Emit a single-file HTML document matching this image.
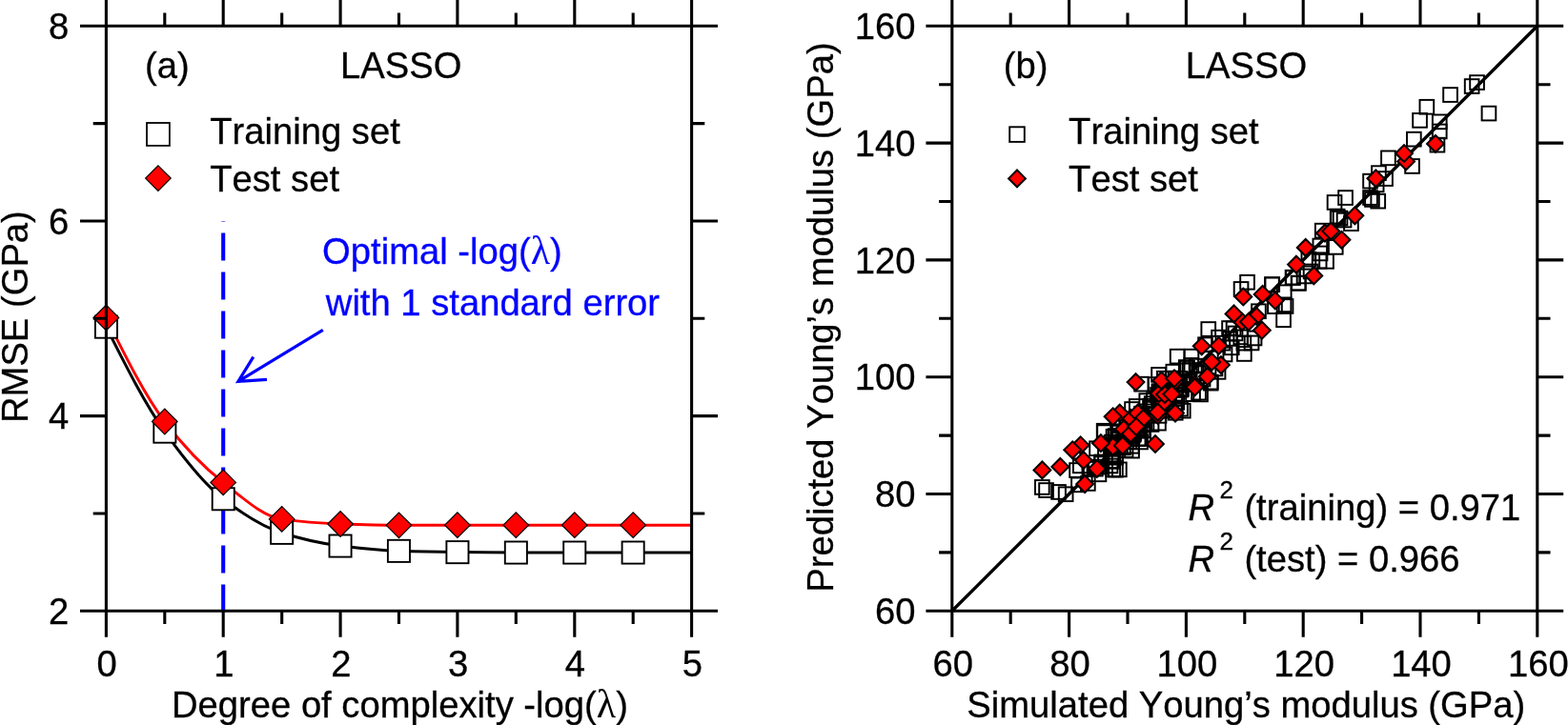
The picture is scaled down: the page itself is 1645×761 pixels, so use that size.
<!DOCTYPE html>
<html lang="en"><head><meta charset="utf-8"><title>LASSO RMSE and parity plot</title>
<style>
html,body{margin:0;padding:0;background:#fff;}
body{width:1645px;height:761px;overflow:hidden;}
svg{display:block;font-family:"Liberation Sans",sans-serif;font-size:38.2px;font-kerning:none;}
</style></head><body>
<svg width="1645" height="761" viewBox="0 0 1645 761">
<rect width="1645" height="761" fill="#fff"/>
<g id="panel-a">
<line x1="234.2" y1="642.5" x2="234.2" y2="231.9" stroke="#00f" stroke-width="4.1" stroke-dasharray="29 12"/>
<path d="M111.4 343.2C131.9 383.8 152.3 424.4 172.8 453.1C193.3 481.8 213.8 507.9 234.2 523.7C254.7 539.5 275.2 552.7 295.7 559.3C316.1 565.9 336.6 570.5 357.1 573C377.6 575.5 398 577.6 418.5 578.3C439 579 459.4 579.4 479.9 579.6C500.4 579.8 520.9 580 541.3 580C561.8 580 582.3 580 602.8 580C623.2 580 643.7 580 664.2 580C684.7 580 705.1 580 725.6 580" fill="none" stroke="#000" stroke-width="3"/>
<path d="M111.4 333.5C131.9 374.6 152.3 415.6 172.8 442.5C193.3 469.4 213.8 490.4 234.2 506.4C254.7 522.4 275.2 541.9 295.7 544.9C316.1 547.9 336.6 549.3 357.1 550C377.6 550.7 398 551.3 418.5 551.3C439 551.3 459.4 551.2 479.9 551.2C500.4 551.2 520.9 551.2 541.3 551.2C561.8 551.2 582.3 551.2 602.8 551.2C623.2 551.2 643.7 551.2 664.2 551.2C684.7 551.2 705.1 551.2 725.6 551.2" fill="none" stroke="#f00" stroke-width="2.9"/>
<g stroke="#000">
<rect x="99.9" y="331.6" width="23.1" height="23.1" fill="#fff" stroke-width="1.9"/>
<rect x="161.3" y="441.6" width="23.1" height="23.1" fill="#fff" stroke-width="1.9"/>
<rect x="222.7" y="512.2" width="23.1" height="23.1" fill="#fff" stroke-width="1.9"/>
<rect x="284.1" y="547.8" width="23.1" height="23.1" fill="#fff" stroke-width="1.9"/>
<rect x="345.5" y="561.5" width="23.1" height="23.1" fill="#fff" stroke-width="1.9"/>
<rect x="406.9" y="566.8" width="23.1" height="23.1" fill="#fff" stroke-width="1.9"/>
<rect x="468.4" y="568.1" width="23.1" height="23.1" fill="#fff" stroke-width="1.9"/>
<rect x="529.8" y="568.5" width="23.1" height="23.1" fill="#fff" stroke-width="1.9"/>
<rect x="591.2" y="568.5" width="23.1" height="23.1" fill="#fff" stroke-width="1.9"/>
<rect x="652.6" y="568.5" width="23.1" height="23.1" fill="#fff" stroke-width="1.9"/>
<path d="M98.1 333.5L111.4 320.2L124.7 333.5L111.4 346.8Z" fill="#f00" stroke-width="1.2"/>
<path d="M159.5 442.5L172.8 429.2L186.1 442.5L172.8 455.8Z" fill="#f00" stroke-width="1.2"/>
<path d="M220.9 506.4L234.2 493.1L247.5 506.4L234.2 519.7Z" fill="#f00" stroke-width="1.2"/>
<path d="M282.4 544.9L295.7 531.6L309 544.9L295.7 558.2Z" fill="#f00" stroke-width="1.2"/>
<path d="M343.8 550L357.1 536.7L370.4 550L357.1 563.3Z" fill="#f00" stroke-width="1.2"/>
<path d="M405.2 551.3L418.5 538L431.8 551.3L418.5 564.6Z" fill="#f00" stroke-width="1.2"/>
<path d="M466.6 551.2L479.9 537.9L493.2 551.2L479.9 564.5Z" fill="#f00" stroke-width="1.2"/>
<path d="M528 551.2L541.3 537.9L554.6 551.2L541.3 564.5Z" fill="#f00" stroke-width="1.2"/>
<path d="M589.5 551.2L602.8 537.9L616.1 551.2L602.8 564.5Z" fill="#f00" stroke-width="1.2"/>
<path d="M650.9 551.2L664.2 537.9L677.5 551.2L664.2 564.5Z" fill="#f00" stroke-width="1.2"/>
<rect x="154" y="129" width="23.9" height="23.9" fill="#fff" stroke-width="1.8"/>
<path d="M152.6 187.1L165.9 173.8L179.2 187.1L165.9 200.4Z" fill="#f00" stroke-width="1.2"/>
</g>
<path d="M84 641.3H753M84 27.3H753M111.4 668.7V-0.1M725.6 668.7V-0.1M234.2 641.3v27.4M234.2 27.3v-27.4M357.1 641.3v27.4M357.1 27.3v-27.4M479.9 641.3v27.4M479.9 27.3v-27.4M602.8 641.3v27.4M602.8 27.3v-27.4M172.8 641.3v13.7M172.8 27.3v-13.7M295.7 641.3v13.7M295.7 27.3v-13.7M418.5 641.3v13.7M418.5 27.3v-13.7M541.3 641.3v13.7M541.3 27.3v-13.7M664.2 641.3v13.7M664.2 27.3v-13.7M111.4 436.6h-27.4M725.6 436.6h27.4M111.4 232h-27.4M725.6 232h27.4M111.4 539h-13.7M725.6 539h13.7M111.4 334.3h-13.7M725.6 334.3h13.7M111.4 129.6h-13.7M725.6 129.6h13.7" fill="none" stroke="#000" stroke-width="3.1"/>
<path d="M338.8 346.3L250 400.3M265.8 374.6L249.9 400.4L280 398.3" fill="none" stroke="#00f" stroke-width="3.2" stroke-miterlimit="10"/>
<g stroke="#000" stroke-width="0.3">
<text transform="translate(112.1,710.4) scale(1,1.02)" text-anchor="middle">0</text>
<text transform="translate(234.9,710.4) scale(1,1.02)" text-anchor="middle">1</text>
<text transform="translate(357.8,710.4) scale(1,1.02)" text-anchor="middle">2</text>
<text transform="translate(480.6,710.4) scale(1,1.02)" text-anchor="middle">3</text>
<text transform="translate(603.5,710.4) scale(1,1.02)" text-anchor="middle">4</text>
<text transform="translate(726.3,710.4) scale(1,1.02)" text-anchor="middle">5</text>
<text transform="translate(72.2,655) scale(1,1.02)" text-anchor="end">2</text>
<text transform="translate(72.2,450.3) scale(1,1.02)" text-anchor="end">4</text>
<text transform="translate(72.2,245.7) scale(1,1.02)" text-anchor="end">6</text>
<text transform="translate(72.2,41) scale(1,1.02)" text-anchor="end">8</text>
<text transform="translate(180,752.6) scale(1,1.02)">Degree of complexity -log(<tspan font-family="Liberation Serif,serif" font-size="42" stroke-width="0">λ</tspan>)</text>
<text transform="translate(28.7,444) rotate(-90) scale(1,1.02)">RMSE (GPa)</text>
<text transform="translate(152,81.9) scale(1,1.02)">(a)</text>
<text transform="translate(357,81.8) scale(1,1.02)">LASSO</text>
<text transform="translate(220.2,150.7) scale(1,1.02)">Training set</text>
<text transform="translate(220.2,200.5) scale(1,1.02)">Test set</text>
<text transform="translate(338.1,276.8) scale(1,1.02)" fill="#00f" stroke="#00f">Optimal -log(<tspan font-family="Liberation Serif,serif" font-size="42" stroke-width="0">λ</tspan>)</text>
<text transform="translate(341.8,331.3) scale(1,1.02)" fill="#00f" stroke="#00f">with 1 standard error</text>
</g>
</g>
<g id="panel-b">
<line x1="998.8" y1="641.3" x2="1612.8" y2="27.3" stroke="#000" stroke-width="3.5" />
<g stroke="#000" fill="none">
<rect x="1542.2" y="79.2" width="14.7" height="14.7" fill="none" stroke-width="1.95"/>
<rect x="1536.8" y="83.2" width="14.7" height="14.7" fill="none" stroke-width="1.95"/>
<rect x="1514.2" y="92.2" width="14.7" height="14.7" fill="none" stroke-width="1.95"/>
<rect x="1489.5" y="104.9" width="14.7" height="14.7" fill="none" stroke-width="1.95"/>
<rect x="1482.2" y="119" width="14.7" height="14.7" fill="none" stroke-width="1.95"/>
<rect x="1502.9" y="120.5" width="14.7" height="14.7" fill="none" stroke-width="1.95"/>
<rect x="1502.9" y="130.6" width="14.7" height="14.7" fill="none" stroke-width="1.95"/>
<rect x="1554.6" y="111.7" width="14.7" height="14.7" fill="none" stroke-width="1.95"/>
<rect x="1476" y="138.8" width="14.7" height="14.7" fill="none" stroke-width="1.95"/>
<rect x="1500.6" y="144.8" width="14.7" height="14.7" fill="none" stroke-width="1.95"/>
<rect x="1449.1" y="158.5" width="14.7" height="14.7" fill="none" stroke-width="1.95"/>
<rect x="1474.2" y="167.1" width="14.7" height="14.7" fill="none" stroke-width="1.95"/>
<rect x="1439.1" y="174.3" width="14.7" height="14.7" fill="none" stroke-width="1.95"/>
<rect x="1430.2" y="182.8" width="14.7" height="14.7" fill="none" stroke-width="1.95"/>
<rect x="1446.2" y="180.2" width="14.7" height="14.7" fill="none" stroke-width="1.95"/>
<rect x="1436.8" y="186.5" width="14.7" height="14.7" fill="none" stroke-width="1.95"/>
<rect x="1404.2" y="200.2" width="14.7" height="14.7" fill="none" stroke-width="1.95"/>
<rect x="1392.7" y="205.1" width="14.7" height="14.7" fill="none" stroke-width="1.95"/>
<rect x="1430.2" y="200.2" width="14.7" height="14.7" fill="none" stroke-width="1.95"/>
<rect x="1432.1" y="202.1" width="14.7" height="14.7" fill="none" stroke-width="1.95"/>
<rect x="1438.4" y="203.8" width="14.7" height="14.7" fill="none" stroke-width="1.95"/>
<rect x="1395.8" y="219.8" width="14.7" height="14.7" fill="none" stroke-width="1.95"/>
<rect x="1398.7" y="221.7" width="14.7" height="14.7" fill="none" stroke-width="1.95"/>
<rect x="1396.2" y="221.6" width="14.7" height="14.7" fill="none" stroke-width="1.95"/>
<rect x="1410.1" y="227.3" width="14.7" height="14.7" fill="none" stroke-width="1.95"/>
<rect x="1402.7" y="223.7" width="14.7" height="14.7" fill="none" stroke-width="1.95"/>
<rect x="1379.9" y="234.8" width="14.7" height="14.7" fill="none" stroke-width="1.95"/>
<rect x="1377.5" y="250.7" width="14.7" height="14.7" fill="none" stroke-width="1.95"/>
<rect x="1393.9" y="252" width="14.7" height="14.7" fill="none" stroke-width="1.95"/>
<rect x="1365.5" y="264.8" width="14.7" height="14.7" fill="none" stroke-width="1.95"/>
<rect x="1376.8" y="266.8" width="14.7" height="14.7" fill="none" stroke-width="1.95"/>
<rect x="1384.2" y="267" width="14.7" height="14.7" fill="none" stroke-width="1.95"/>
<rect x="1377.7" y="258.6" width="14.7" height="14.7" fill="none" stroke-width="1.95"/>
<rect x="1348.7" y="283.8" width="14.7" height="14.7" fill="none" stroke-width="1.95"/>
<rect x="1354.7" y="289.8" width="14.7" height="14.7" fill="none" stroke-width="1.95"/>
<rect x="1327.4" y="291.4" width="14.7" height="14.7" fill="none" stroke-width="1.95"/>
<rect x="1367.7" y="277.6" width="14.7" height="14.7" fill="none" stroke-width="1.95"/>
<rect x="1360.7" y="282.6" width="14.7" height="14.7" fill="none" stroke-width="1.95"/>
<rect x="1301.2" y="288.9" width="14.7" height="14.7" fill="none" stroke-width="1.95"/>
<rect x="1294.7" y="296.1" width="14.7" height="14.7" fill="none" stroke-width="1.95"/>
<rect x="1327.1" y="291.3" width="14.7" height="14.7" fill="none" stroke-width="1.95"/>
<rect x="1349.1" y="284.2" width="14.7" height="14.7" fill="none" stroke-width="1.95"/>
<rect x="1355.1" y="289.9" width="14.7" height="14.7" fill="none" stroke-width="1.95"/>
<rect x="1339.9" y="299.4" width="14.7" height="14.7" fill="none" stroke-width="1.95"/>
<rect x="1339.7" y="312.5" width="14.7" height="14.7" fill="none" stroke-width="1.95"/>
<rect x="1341.7" y="314.1" width="14.7" height="14.7" fill="none" stroke-width="1.95"/>
<rect x="1330.1" y="314.3" width="14.7" height="14.7" fill="none" stroke-width="1.95"/>
<rect x="1339.2" y="328.4" width="14.7" height="14.7" fill="none" stroke-width="1.95"/>
<rect x="1313.1" y="319.4" width="14.7" height="14.7" fill="none" stroke-width="1.95"/>
<rect x="1260.4" y="338.2" width="14.7" height="14.7" fill="none" stroke-width="1.95"/>
<rect x="1282.2" y="337.2" width="14.7" height="14.7" fill="none" stroke-width="1.95"/>
<rect x="1271.2" y="346.8" width="14.7" height="14.7" fill="none" stroke-width="1.95"/>
<rect x="1286.7" y="337.6" width="14.7" height="14.7" fill="none" stroke-width="1.95"/>
<rect x="1308.7" y="347.6" width="14.7" height="14.7" fill="none" stroke-width="1.95"/>
<rect x="1227.8" y="366.8" width="14.7" height="14.7" fill="none" stroke-width="1.95"/>
<rect x="1242.6" y="366.8" width="14.7" height="14.7" fill="none" stroke-width="1.95"/>
<rect x="1298" y="364.1" width="14.7" height="14.7" fill="none" stroke-width="1.95"/>
<rect x="1208.2" y="386" width="14.7" height="14.7" fill="none" stroke-width="1.95"/>
<rect x="1305.7" y="352.6" width="14.7" height="14.7" fill="none" stroke-width="1.95"/>
<rect x="1257.2" y="354.4" width="14.7" height="14.7" fill="none" stroke-width="1.95"/>
<rect x="1294.4" y="346.5" width="14.7" height="14.7" fill="none" stroke-width="1.95"/>
<rect x="1283.4" y="348.1" width="14.7" height="14.7" fill="none" stroke-width="1.95"/>
<rect x="1284.9" y="357.5" width="14.7" height="14.7" fill="none" stroke-width="1.95"/>
<rect x="1214" y="389.9" width="14.7" height="14.7" fill="none" stroke-width="1.95"/>
<rect x="1223.5" y="382.8" width="14.7" height="14.7" fill="none" stroke-width="1.95"/>
<rect x="1240.8" y="381.2" width="14.7" height="14.7" fill="none" stroke-width="1.95"/>
<rect x="1250.2" y="384.3" width="14.7" height="14.7" fill="none" stroke-width="1.95"/>
<rect x="1262.9" y="393.8" width="14.7" height="14.7" fill="none" stroke-width="1.95"/>
<rect x="1204.5" y="396.2" width="14.7" height="14.7" fill="none" stroke-width="1.95"/>
<rect x="1250.2" y="404.8" width="14.7" height="14.7" fill="none" stroke-width="1.95"/>
<rect x="1236.1" y="395.4" width="14.7" height="14.7" fill="none" stroke-width="1.95"/>
<rect x="1267.6" y="379.6" width="14.7" height="14.7" fill="none" stroke-width="1.95"/>
<rect x="1275.5" y="352.8" width="14.7" height="14.7" fill="none" stroke-width="1.95"/>
<rect x="1297.5" y="352.8" width="14.7" height="14.7" fill="none" stroke-width="1.95"/>
<rect x="1262.8" y="394.8" width="14.7" height="14.7" fill="none" stroke-width="1.95"/>
<rect x="1252.2" y="406.6" width="14.7" height="14.7" fill="none" stroke-width="1.95"/>
<rect x="1233.9" y="423.8" width="14.7" height="14.7" fill="none" stroke-width="1.95"/>
<rect x="1270.7" y="383" width="14.7" height="14.7" fill="none" stroke-width="1.95"/>
<rect x="1189.2" y="456.6" width="14.7" height="14.7" fill="none" stroke-width="1.95"/>
<rect x="1160.4" y="485.5" width="14.7" height="14.7" fill="none" stroke-width="1.95"/>
<rect x="1167" y="485.5" width="14.7" height="14.7" fill="none" stroke-width="1.95"/>
<rect x="1254.7" y="390.6" width="14.7" height="14.7" fill="none" stroke-width="1.95"/>
<rect x="1260.7" y="377.6" width="14.7" height="14.7" fill="none" stroke-width="1.95"/>
<rect x="1268.7" y="368.6" width="14.7" height="14.7" fill="none" stroke-width="1.95"/>
<rect x="1277.7" y="364.6" width="14.7" height="14.7" fill="none" stroke-width="1.95"/>
<rect x="1288.7" y="342.6" width="14.7" height="14.7" fill="none" stroke-width="1.95"/>
<rect x="1150.8" y="444.9" width="14.7" height="14.7" fill="none" stroke-width="1.95"/>
<rect x="1180.2" y="422.2" width="14.7" height="14.7" fill="none" stroke-width="1.95"/>
<rect x="1184.9" y="419.1" width="14.7" height="14.7" fill="none" stroke-width="1.95"/>
<rect x="1195.4" y="413.3" width="14.7" height="14.7" fill="none" stroke-width="1.95"/>
<rect x="1190.2" y="395.8" width="14.7" height="14.7" fill="none" stroke-width="1.95"/>
<rect x="1231.2" y="421.8" width="14.7" height="14.7" fill="none" stroke-width="1.95"/>
<rect x="1225.9" y="425.9" width="14.7" height="14.7" fill="none" stroke-width="1.95"/>
<rect x="1200.7" y="438.1" width="14.7" height="14.7" fill="none" stroke-width="1.95"/>
<rect x="1186.8" y="453.3" width="14.7" height="14.7" fill="none" stroke-width="1.95"/>
<rect x="1244.2" y="406.3" width="14.7" height="14.7" fill="none" stroke-width="1.95"/>
<rect x="1086" y="504.1" width="14.7" height="14.7" fill="none" stroke-width="1.95"/>
<rect x="1090.2" y="507.2" width="14.7" height="14.7" fill="none" stroke-width="1.95"/>
<rect x="1103.2" y="509.1" width="14.7" height="14.7" fill="none" stroke-width="1.95"/>
<rect x="1110.8" y="511.4" width="14.7" height="14.7" fill="none" stroke-width="1.95"/>
<rect x="1122.2" y="486.2" width="14.7" height="14.7" fill="none" stroke-width="1.95"/>
<rect x="1125.9" y="481.5" width="14.7" height="14.7" fill="none" stroke-width="1.95"/>
<rect x="1124.1" y="501.5" width="14.7" height="14.7" fill="none" stroke-width="1.95"/>
<rect x="1145.6" y="490.5" width="14.7" height="14.7" fill="none" stroke-width="1.95"/>
<rect x="1143.2" y="463.4" width="14.7" height="14.7" fill="none" stroke-width="1.95"/>
<rect x="1163.1" y="485.8" width="14.7" height="14.7" fill="none" stroke-width="1.95"/>
<rect x="1151.2" y="446.3" width="14.7" height="14.7" fill="none" stroke-width="1.95"/>
<rect x="1192.2" y="452.9" width="14.7" height="14.7" fill="none" stroke-width="1.95"/>
<rect x="1157.7" y="481.6" width="14.7" height="14.7" fill="none" stroke-width="1.95"/>
<rect x="1160.7" y="470.6" width="14.7" height="14.7" fill="none" stroke-width="1.95"/>
<rect x="1147" y="482.8" width="14.7" height="14.7" fill="none" stroke-width="1.95"/>
<rect x="1148.2" y="479.3" width="14.7" height="14.7" fill="none" stroke-width="1.95"/>
<rect x="1148.4" y="477.6" width="14.7" height="14.7" fill="none" stroke-width="1.95"/>
<rect x="1152.1" y="470.6" width="14.7" height="14.7" fill="none" stroke-width="1.95"/>
<rect x="1142" y="484.8" width="14.7" height="14.7" fill="none" stroke-width="1.95"/>
<rect x="1135.5" y="483.9" width="14.7" height="14.7" fill="none" stroke-width="1.95"/>
<rect x="1134" y="500.1" width="14.7" height="14.7" fill="none" stroke-width="1.95"/>
<rect x="1162.9" y="450.2" width="14.7" height="14.7" fill="none" stroke-width="1.95"/>
<rect x="1170.5" y="456.2" width="14.7" height="14.7" fill="none" stroke-width="1.95"/>
<rect x="1160.7" y="450.9" width="14.7" height="14.7" fill="none" stroke-width="1.95"/>
<rect x="1158.6" y="463.9" width="14.7" height="14.7" fill="none" stroke-width="1.95"/>
<rect x="1161.4" y="462.1" width="14.7" height="14.7" fill="none" stroke-width="1.95"/>
<rect x="1167.2" y="453.9" width="14.7" height="14.7" fill="none" stroke-width="1.95"/>
<rect x="1166.7" y="450.3" width="14.7" height="14.7" fill="none" stroke-width="1.95"/>
<rect x="1171" y="462.5" width="14.7" height="14.7" fill="none" stroke-width="1.95"/>
<rect x="1168" y="461.2" width="14.7" height="14.7" fill="none" stroke-width="1.95"/>
<rect x="1163.2" y="469.6" width="14.7" height="14.7" fill="none" stroke-width="1.95"/>
<rect x="1172.5" y="451.6" width="14.7" height="14.7" fill="none" stroke-width="1.95"/>
<rect x="1164.1" y="458.5" width="14.7" height="14.7" fill="none" stroke-width="1.95"/>
<rect x="1158.8" y="456.8" width="14.7" height="14.7" fill="none" stroke-width="1.95"/>
<rect x="1173.7" y="465.2" width="14.7" height="14.7" fill="none" stroke-width="1.95"/>
<rect x="1165.6" y="446.8" width="14.7" height="14.7" fill="none" stroke-width="1.95"/>
<rect x="1177.9" y="445.5" width="14.7" height="14.7" fill="none" stroke-width="1.95"/>
<rect x="1161.8" y="462" width="14.7" height="14.7" fill="none" stroke-width="1.95"/>
<rect x="1165.8" y="452.6" width="14.7" height="14.7" fill="none" stroke-width="1.95"/>
<rect x="1158.8" y="476.4" width="14.7" height="14.7" fill="none" stroke-width="1.95"/>
<rect x="1163.1" y="472.9" width="14.7" height="14.7" fill="none" stroke-width="1.95"/>
<rect x="1159.2" y="477" width="14.7" height="14.7" fill="none" stroke-width="1.95"/>
<rect x="1159.8" y="463.6" width="14.7" height="14.7" fill="none" stroke-width="1.95"/>
<rect x="1158.6" y="460.5" width="14.7" height="14.7" fill="none" stroke-width="1.95"/>
<rect x="1174.4" y="443.6" width="14.7" height="14.7" fill="none" stroke-width="1.95"/>
<rect x="1166.9" y="445.4" width="14.7" height="14.7" fill="none" stroke-width="1.95"/>
<rect x="1186.5" y="437.8" width="14.7" height="14.7" fill="none" stroke-width="1.95"/>
<rect x="1212.1" y="417.3" width="14.7" height="14.7" fill="none" stroke-width="1.95"/>
<rect x="1182.2" y="448" width="14.7" height="14.7" fill="none" stroke-width="1.95"/>
<rect x="1190.9" y="429" width="14.7" height="14.7" fill="none" stroke-width="1.95"/>
<rect x="1230.5" y="389.9" width="14.7" height="14.7" fill="none" stroke-width="1.95"/>
<rect x="1225.7" y="406.8" width="14.7" height="14.7" fill="none" stroke-width="1.95"/>
<rect x="1187.6" y="453" width="14.7" height="14.7" fill="none" stroke-width="1.95"/>
<rect x="1212" y="398.2" width="14.7" height="14.7" fill="none" stroke-width="1.95"/>
<rect x="1181.4" y="434.6" width="14.7" height="14.7" fill="none" stroke-width="1.95"/>
<rect x="1190.2" y="433.8" width="14.7" height="14.7" fill="none" stroke-width="1.95"/>
<rect x="1219.2" y="408.6" width="14.7" height="14.7" fill="none" stroke-width="1.95"/>
<rect x="1179.8" y="435.6" width="14.7" height="14.7" fill="none" stroke-width="1.95"/>
<rect x="1180.8" y="449.9" width="14.7" height="14.7" fill="none" stroke-width="1.95"/>
<rect x="1209.7" y="418" width="14.7" height="14.7" fill="none" stroke-width="1.95"/>
<rect x="1203" y="412.4" width="14.7" height="14.7" fill="none" stroke-width="1.95"/>
<rect x="1208.2" y="410.8" width="14.7" height="14.7" fill="none" stroke-width="1.95"/>
<rect x="1184.4" y="444.4" width="14.7" height="14.7" fill="none" stroke-width="1.95"/>
<rect x="1227" y="393.1" width="14.7" height="14.7" fill="none" stroke-width="1.95"/>
<rect x="1186.4" y="444.8" width="14.7" height="14.7" fill="none" stroke-width="1.95"/>
<rect x="1217.5" y="399.3" width="14.7" height="14.7" fill="none" stroke-width="1.95"/>
<rect x="1229.4" y="396.9" width="14.7" height="14.7" fill="none" stroke-width="1.95"/>
<rect x="1225.5" y="407.2" width="14.7" height="14.7" fill="none" stroke-width="1.95"/>
<rect x="1181.6" y="449" width="14.7" height="14.7" fill="none" stroke-width="1.95"/>
<rect x="1177.9" y="437.8" width="14.7" height="14.7" fill="none" stroke-width="1.95"/>
<rect x="1215.5" y="410" width="14.7" height="14.7" fill="none" stroke-width="1.95"/>
<rect x="1190.2" y="426.8" width="14.7" height="14.7" fill="none" stroke-width="1.95"/>
<rect x="1192.2" y="444.6" width="14.7" height="14.7" fill="none" stroke-width="1.95"/>
<rect x="1185.6" y="438.8" width="14.7" height="14.7" fill="none" stroke-width="1.95"/>
<rect x="1188.6" y="439.1" width="14.7" height="14.7" fill="none" stroke-width="1.95"/>
<rect x="1207.2" y="407.1" width="14.7" height="14.7" fill="none" stroke-width="1.95"/>
<rect x="1191.5" y="444.2" width="14.7" height="14.7" fill="none" stroke-width="1.95"/>
<rect x="1227.5" y="395.5" width="14.7" height="14.7" fill="none" stroke-width="1.95"/>
<rect x="1190.9" y="430.8" width="14.7" height="14.7" fill="none" stroke-width="1.95"/>
<rect x="1200.9" y="416.3" width="14.7" height="14.7" fill="none" stroke-width="1.95"/>
<rect x="1196.5" y="424.5" width="14.7" height="14.7" fill="none" stroke-width="1.95"/>
<rect x="1208" y="408.4" width="14.7" height="14.7" fill="none" stroke-width="1.95"/>
<rect x="1226" y="389.8" width="14.7" height="14.7" fill="none" stroke-width="1.95"/>
<rect x="1231.1" y="401.8" width="14.7" height="14.7" fill="none" stroke-width="1.95"/>
<rect x="1208.7" y="429" width="14.7" height="14.7" fill="none" stroke-width="1.95"/>
<rect x="1183.6" y="437.9" width="14.7" height="14.7" fill="none" stroke-width="1.95"/>
<rect x="1227.1" y="396" width="14.7" height="14.7" fill="none" stroke-width="1.95"/>
<rect x="1215.2" y="406" width="14.7" height="14.7" fill="none" stroke-width="1.95"/>
<rect x="1211.6" y="412.5" width="14.7" height="14.7" fill="none" stroke-width="1.95"/>
<rect x="1202.9" y="421.8" width="14.7" height="14.7" fill="none" stroke-width="1.95"/>
<rect x="1232.2" y="401" width="14.7" height="14.7" fill="none" stroke-width="1.95"/>
<rect x="1180" y="460.9" width="14.7" height="14.7" fill="none" stroke-width="1.95"/>
<rect x="1226.6" y="402.2" width="14.7" height="14.7" fill="none" stroke-width="1.95"/>
<rect x="1217.2" y="411.9" width="14.7" height="14.7" fill="none" stroke-width="1.95"/>
<rect x="1227.4" y="415" width="14.7" height="14.7" fill="none" stroke-width="1.95"/>
<rect x="1195.6" y="437.4" width="14.7" height="14.7" fill="none" stroke-width="1.95"/>
<rect x="1224.9" y="420.5" width="14.7" height="14.7" fill="none" stroke-width="1.95"/>
<rect x="1199.2" y="418.8" width="14.7" height="14.7" fill="none" stroke-width="1.95"/>
<rect x="1208.1" y="436.8" width="14.7" height="14.7" fill="none" stroke-width="1.95"/>
<rect x="1211" y="423.4" width="14.7" height="14.7" fill="none" stroke-width="1.95"/>
<rect x="1210.1" y="403.6" width="14.7" height="14.7" fill="none" stroke-width="1.95"/>
<rect x="1180.2" y="465.8" width="14.7" height="14.7" fill="none" stroke-width="1.95"/>
<rect x="1216.8" y="420.5" width="14.7" height="14.7" fill="none" stroke-width="1.95"/>
<rect x="1208.5" y="403.4" width="14.7" height="14.7" fill="none" stroke-width="1.95"/>
<rect x="1200.6" y="420.5" width="14.7" height="14.7" fill="none" stroke-width="1.95"/>
<rect x="1218.1" y="409.4" width="14.7" height="14.7" fill="none" stroke-width="1.95"/>
<rect x="1177.4" y="456.4" width="14.7" height="14.7" fill="none" stroke-width="1.95"/>
<rect x="1188.7" y="442.4" width="14.7" height="14.7" fill="none" stroke-width="1.95"/>
<rect x="1215.1" y="423.8" width="14.7" height="14.7" fill="none" stroke-width="1.95"/>
<rect x="1227.7" y="395.6" width="14.7" height="14.7" fill="none" stroke-width="1.95"/>
<rect x="1238.2" y="378.9" width="14.7" height="14.7" fill="none" stroke-width="1.95"/>
<rect x="1248" y="376.8" width="14.7" height="14.7" fill="none" stroke-width="1.95"/>
<rect x="1236.9" y="378.2" width="14.7" height="14.7" fill="none" stroke-width="1.95"/>
<rect x="1242.5" y="376.1" width="14.7" height="14.7" fill="none" stroke-width="1.95"/>
<rect x="1247.7" y="383.2" width="14.7" height="14.7" fill="none" stroke-width="1.95"/>
<rect x="1059.2" y="133.3" width="15.6" height="15.6" fill="none" stroke-width="1.9"/>
</g><g stroke="#000">
<path d="M1124.7 467.3L1133.6 458.4L1142.5 467.3L1133.6 476.2Z" fill="#f00" stroke-width="2.05"/>
<path d="M1212 422.6L1220.9 413.7L1229.8 422.6L1220.9 431.5Z" fill="#f00" stroke-width="2.05"/>
<path d="M1207.1 413L1216 404.1L1224.9 413L1216 421.9Z" fill="#f00" stroke-width="2.05"/>
<path d="M1213.1 414L1222 405.1L1230.9 414L1222 422.9Z" fill="#f00" stroke-width="2.05"/>
<path d="M1205.7 436L1214.6 427.1L1223.5 436L1214.6 444.9Z" fill="#f00" stroke-width="2.05"/>
<path d="M1177.3 438.9L1186.2 430L1195.1 438.9L1186.2 447.8Z" fill="#f00" stroke-width="2.05"/>
<path d="M1184.7 433.6L1193.6 424.7L1202.5 433.6L1193.6 442.5Z" fill="#f00" stroke-width="2.05"/>
<path d="M1165.8 433.6L1174.7 424.7L1183.6 433.6L1174.7 442.5Z" fill="#f00" stroke-width="2.05"/>
<path d="M1170 450.4L1178.9 441.5L1187.8 450.4L1178.9 459.3Z" fill="#f00" stroke-width="2.05"/>
<path d="M1158.8 468.7L1167.7 459.8L1176.6 468.7L1167.7 477.6Z" fill="#f00" stroke-width="2.05"/>
<path d="M1244.5 403.5L1253.4 394.6L1262.3 403.5L1253.4 412.4Z" fill="#f00" stroke-width="2.05"/>
<path d="M1272 383.1L1280.9 374.2L1289.8 383.1L1280.9 392Z" fill="#f00" stroke-width="2.05"/>
<path d="M1294.2 337.8L1303.1 328.9L1312 337.8L1303.1 346.7Z" fill="#f00" stroke-width="2.05"/>
<path d="M1309.4 332L1318.3 323.1L1327.2 332L1318.3 340.9Z" fill="#f00" stroke-width="2.05"/>
<path d="M1381 244.7L1389.9 235.8L1398.8 244.7L1389.9 253.6Z" fill="#f00" stroke-width="2.05"/>
<path d="M1466.2 169.4L1475.1 160.5L1484 169.4L1475.1 178.3Z" fill="#f00" stroke-width="2.05"/>
<path d="M1084.5 493.4L1093.4 484.5L1102.3 493.4L1093.4 502.3Z" fill="#f00" stroke-width="2.05"/>
<path d="M1103.4 489.9L1112.3 481L1121.2 489.9L1112.3 498.8Z" fill="#f00" stroke-width="2.05"/>
<path d="M1116.3 472.3L1125.2 463.4L1134.1 472.3L1125.2 481.2Z" fill="#f00" stroke-width="2.05"/>
<path d="M1127.8 483.1L1136.7 474.2L1145.6 483.1L1136.7 492Z" fill="#f00" stroke-width="2.05"/>
<path d="M1146 465.2L1154.9 456.3L1163.8 465.2L1154.9 474.1Z" fill="#f00" stroke-width="2.05"/>
<path d="M1142 492L1150.9 483.1L1159.8 492L1150.9 500.9Z" fill="#f00" stroke-width="2.05"/>
<path d="M1129.2 508.1L1138.1 499.2L1147 508.1L1138.1 517Z" fill="#f00" stroke-width="2.05"/>
<path d="M1168.8 467.7L1177.7 458.8L1186.6 467.7L1177.7 476.6Z" fill="#f00" stroke-width="2.05"/>
<path d="M1177.2 455.3L1186.1 446.4L1195 455.3L1186.1 464.2Z" fill="#f00" stroke-width="2.05"/>
<path d="M1182.6 401.1L1191.5 392.2L1200.4 401.1L1191.5 410Z" fill="#f00" stroke-width="2.05"/>
<path d="M1209.9 400L1218.8 391.1L1227.7 400L1218.8 408.9Z" fill="#f00" stroke-width="2.05"/>
<path d="M1223.6 400.5L1232.5 391.6L1241.4 400.5L1232.5 409.4Z" fill="#f00" stroke-width="2.05"/>
<path d="M1244.5 406.4L1253.4 397.5L1262.3 406.4L1253.4 415.3Z" fill="#f00" stroke-width="2.05"/>
<path d="M1220.4 413.7L1229.3 404.8L1238.2 413.7L1229.3 422.6Z" fill="#f00" stroke-width="2.05"/>
<path d="M1205.7 432.6L1214.6 423.7L1223.5 432.6L1214.6 441.5Z" fill="#f00" stroke-width="2.05"/>
<path d="M1224.1 433.6L1233 424.7L1241.9 433.6L1233 442.5Z" fill="#f00" stroke-width="2.05"/>
<path d="M1190.5 439.1L1199.4 430.2L1208.3 439.1L1199.4 448Z" fill="#f00" stroke-width="2.05"/>
<path d="M1158.7 437.3L1167.6 428.4L1176.5 437.3L1167.6 446.2Z" fill="#f00" stroke-width="2.05"/>
<path d="M1183.1 447.8L1192 438.9L1200.9 447.8L1192 456.7Z" fill="#f00" stroke-width="2.05"/>
<path d="M1203.1 466L1212 457.1L1220.9 466L1212 474.9Z" fill="#f00" stroke-width="2.05"/>
<path d="M1251.8 363.3L1260.7 354.4L1269.6 363.3L1260.7 372.2Z" fill="#f00" stroke-width="2.05"/>
<path d="M1269.7 362.9L1278.6 354L1287.5 362.9L1278.6 371.8Z" fill="#f00" stroke-width="2.05"/>
<path d="M1262.3 379.9L1271.2 371L1280.1 379.9L1271.2 388.8Z" fill="#f00" stroke-width="2.05"/>
<path d="M1257.8 395.2L1266.7 386.3L1275.6 395.2L1266.7 404.1Z" fill="#f00" stroke-width="2.05"/>
<path d="M1209.5 399.4L1218.4 390.5L1227.3 399.4L1218.4 408.3Z" fill="#f00" stroke-width="2.05"/>
<path d="M1223.1 397.3L1232 388.4L1240.9 397.3L1232 406.2Z" fill="#f00" stroke-width="2.05"/>
<path d="M1295.4 311.5L1304.3 302.6L1313.2 311.5L1304.3 320.4Z" fill="#f00" stroke-width="2.05"/>
<path d="M1315.7 308.9L1324.6 300L1333.5 308.9L1324.6 317.8Z" fill="#f00" stroke-width="2.05"/>
<path d="M1328.9 315.5L1337.8 306.6L1346.7 315.5L1337.8 324.4Z" fill="#f00" stroke-width="2.05"/>
<path d="M1285.6 329.4L1294.5 320.5L1303.4 329.4L1294.5 338.3Z" fill="#f00" stroke-width="2.05"/>
<path d="M1301 337.8L1309.9 328.9L1318.8 337.8L1309.9 346.7Z" fill="#f00" stroke-width="2.05"/>
<path d="M1315 346.7L1323.9 337.8L1332.8 346.7L1323.9 355.6Z" fill="#f00" stroke-width="2.05"/>
<path d="M1412.5 226.3L1421.4 217.4L1430.3 226.3L1421.4 235.2Z" fill="#f00" stroke-width="2.05"/>
<path d="M1387.3 242.6L1396.2 233.7L1405.1 242.6L1396.2 251.5Z" fill="#f00" stroke-width="2.05"/>
<path d="M1398.6 251.8L1407.5 242.9L1416.4 251.8L1407.5 260.7Z" fill="#f00" stroke-width="2.05"/>
<path d="M1360.8 259.9L1369.7 251L1378.6 259.9L1369.7 268.8Z" fill="#f00" stroke-width="2.05"/>
<path d="M1351 277.6L1359.9 268.7L1368.8 277.6L1359.9 286.5Z" fill="#f00" stroke-width="2.05"/>
<path d="M1369.4 289.4L1378.3 280.5L1387.2 289.4L1378.3 298.3Z" fill="#f00" stroke-width="2.05"/>
<path d="M1464.1 161L1473 152.1L1481.9 161L1473 169.9Z" fill="#f00" stroke-width="2.05"/>
<path d="M1434.5 187.3L1443.4 178.4L1452.3 187.3L1443.4 196.2Z" fill="#f00" stroke-width="2.05"/>
<path d="M1497.1 150.9L1506 142L1514.9 150.9L1506 159.8Z" fill="#f00" stroke-width="2.05"/>
<path d="M1058.1 187.4L1067 178.5L1075.9 187.4L1067 196.3Z" fill="#f00" stroke-width="2.0"/>
</g>
<path d="M971.4 641.3H1640.2M971.4 27.3H1640.2M998.8 668.7V-0.1M1612.8 668.7V-0.1M1121.6 641.3v27.4M1121.6 27.3v-27.4M1244.4 641.3v27.4M1244.4 27.3v-27.4M1367.2 641.3v27.4M1367.2 27.3v-27.4M1490 641.3v27.4M1490 27.3v-27.4M1060.2 641.3v13.7M1060.2 27.3v-13.7M1183 641.3v13.7M1183 27.3v-13.7M1305.8 641.3v13.7M1305.8 27.3v-13.7M1428.6 641.3v13.7M1428.6 27.3v-13.7M1551.4 641.3v13.7M1551.4 27.3v-13.7M998.8 518.5h-27.4M1612.8 518.5h27.4M998.8 395.7h-27.4M1612.8 395.7h27.4M998.8 272.9h-27.4M1612.8 272.9h27.4M998.8 150.1h-27.4M1612.8 150.1h27.4M998.8 579.9h-13.7M1612.8 579.9h13.7M998.8 457.1h-13.7M1612.8 457.1h13.7M998.8 334.3h-13.7M1612.8 334.3h13.7M998.8 211.5h-13.7M1612.8 211.5h13.7M998.8 88.7h-13.7M1612.8 88.7h13.7" fill="none" stroke="#000" stroke-width="3.1"/>
<g stroke="#000" stroke-width="0.3">
<text transform="translate(999.8,710.4) scale(1,1.02)" text-anchor="middle">60</text>
<text transform="translate(960.6,655) scale(1,1.02)" text-anchor="end">60</text>
<text transform="translate(1122.6,710.4) scale(1,1.02)" text-anchor="middle">80</text>
<text transform="translate(960.6,532.2) scale(1,1.02)" text-anchor="end">80</text>
<text transform="translate(1245.4,710.4) scale(1,1.02)" text-anchor="middle">100</text>
<text transform="translate(960.6,409.4) scale(1,1.02)" text-anchor="end">100</text>
<text transform="translate(1368.2,710.4) scale(1,1.02)" text-anchor="middle">120</text>
<text transform="translate(960.6,286.6) scale(1,1.02)" text-anchor="end">120</text>
<text transform="translate(1491,710.4) scale(1,1.02)" text-anchor="middle">140</text>
<text transform="translate(960.6,163.8) scale(1,1.02)" text-anchor="end">140</text>
<text transform="translate(1613.8,710.4) scale(1,1.02)" text-anchor="middle">160</text>
<text transform="translate(960.6,41) scale(1,1.02)" text-anchor="end">160</text>
<text transform="translate(1014.3,752.5) scale(1,1.02)">Simulated Young’s modulus (GPa)</text>
<text transform="translate(873.8,621.8) rotate(-90) scale(1,1.02)">Predicted Young’s modulus (GPa)</text>
<text transform="translate(1052.8,81.8) scale(1,1.02)">(b)</text>
<text transform="translate(1243.8,81.8) scale(1,1.02)">LASSO</text>
<text transform="translate(1121.1,150.7) scale(1,1.02)">Training set</text>
<text transform="translate(1121.1,200.5) scale(1,1.02)">Test set</text>
<text transform="translate(1246.4,545.7) scale(1,1.02)" font-style="italic">R</text>
<text transform="translate(1279.6,522.5) scale(1,1.02)" font-size="26">2</text>
<text transform="translate(1305.4,545.7) scale(1,1.02)">(training) = 0.971</text>
<text transform="translate(1246.4,600.3) scale(1,1.02)" font-style="italic">R</text>
<text transform="translate(1279.6,577.1) scale(1,1.02)" font-size="26">2</text>
<text transform="translate(1305.4,600.3) scale(1,1.02)">(test) = 0.966</text>
</g>
</g>
</svg>
</body></html>
